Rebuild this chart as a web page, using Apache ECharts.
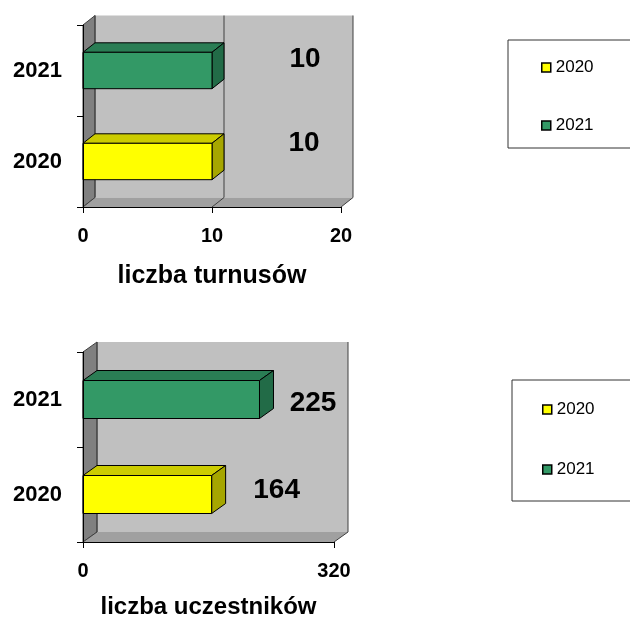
<!DOCTYPE html>
<html>
<head>
<meta charset="utf-8">
<script src="https://cdn.jsdelivr.net/npm/echarts@6/dist/echarts.min.js"></script>
<style>
  html, body { margin: 0; padding: 0; background: #fff; }
  #chart { width: 630px; height: 617px; }
</style>
</head>
<body>
<div id="chart"></div>
<script>
// dane
const years = ['2020', '2021'];
const turnusy = [10, 10];
const uczestnicy = [164, 225];
const turnusyTicks = [0, 10, 20];
const uczestnicyTicks = [0, 320];

const FONT = '"Liberation Sans", Arial, sans-serif';

// kolory ścian i słupków (front, góra, bok)
const wallColors = { back: '#C0C0C0', left: '#808080', floor: '#A0A0A0', line: '#404040' };
const barColors = [
  { front: '#FFFF00', top: '#CCCC00', side: '#A6A600' },
  { front: '#339966', top: '#2A7D54', side: '#226B47' }
];

// ustawienia obu wykresów
const panels = [
  {
    grid: { left: 83, top: 25, width: 258, height: 182 },
    values: turnusy,
    ticks: turnusyTicks,
    name: 'liczba turnusów',
    nameSize: 25,
    nameGap: 57,
    labelMargin: 19,
    depth: [12, 9.5],
    labelOffsets: [[92, -18], [93, -11]],
    legend: { left: 508, top: 40, padding: [19, 90, 14, 33], itemGap: 41 }
  },
  {
    grid: { left: 83, top: 352, width: 251, height: 190 },
    values: uczestnicy,
    ticks: uczestnicyTicks,
    name: 'liczba uczestników',
    nameSize: 24,
    nameGap: 53,
    labelMargin: 19,
    depth: [14, 10],
    labelOffsets: [[65, -4.5], [53.5, 3.5]],
    legend: { left: 512, top: 380, padding: [21, 90, 23, 30], itemGap: 43 }
  }
];

function wallsRenderer(panel) {
  return function (params, api) {
    const cs = params.coordSys;
    const dx = panel.depth[0], dy = panel.depth[1];
    const x0 = cs.x, x1 = cs.x + cs.width;
    const y0 = cs.y, y1 = cs.y + cs.height;
    const children = [
      { type: 'polygon', shape: { points: [[x0 + dx, y0 - dy], [x1 + dx, y0 - dy], [x1 + dx, y1 - dy], [x0 + dx, y1 - dy]] },
        style: { fill: wallColors.back } },
      { type: 'polygon', shape: { points: [[x0, y0], [x0 + dx, y0 - dy], [x0 + dx, y1 - dy], [x0, y1]] },
        style: { fill: wallColors.left, stroke: wallColors.line, lineWidth: 1 } },
      { type: 'polygon', shape: { points: [[x0, y1], [x0 + dx, y1 - dy], [x1 + dx, y1 - dy], [x1, y1]] },
        style: { fill: wallColors.floor } }
    ];
    panel.ticks.forEach(function (t) {
      const x = api.coord([t, 0])[0];
      children.push({ type: 'polyline', shape: { points: [[x, y1], [x + dx, y1 - dy], [x + dx, y0 - dy]] },
        style: { stroke: wallColors.line, lineWidth: 1, fill: null } });
    });
    return { type: 'group', children: children };
  };
}

function barRenderer(panel, yearIdx) {
  return function (params, api) {
    const val = api.value(0);
    const cat = api.value(1);
    const dx = panel.depth[0], dy = panel.depth[1];
    const start = api.coord([0, cat]);
    const end = api.coord([val, cat]);
    const h = api.size([0, 1])[1] * 0.4;
    const xa = start[0], xb = end[0];
    const yt = end[1] - h / 2, yb = end[1] + h / 2;
    const c = barColors[yearIdx];
    const edge = { stroke: '#000', lineWidth: 1 };
    const off = panel.labelOffsets[yearIdx];
    return {
      type: 'group',
      children: [
        { type: 'polygon', shape: { points: [[xa, yt], [xa + dx, yt - dy], [xb + dx, yt - dy], [xb, yt]] },
          style: Object.assign({ fill: c.top }, edge) },
        { type: 'polygon', shape: { points: [[xb, yt], [xb + dx, yt - dy], [xb + dx, yb - dy], [xb, yb]] },
          style: Object.assign({ fill: c.side }, edge) },
        { type: 'rect', shape: { x: xa, y: yt, width: xb - xa, height: h },
          style: Object.assign({ fill: c.front }, edge) },
        { type: 'text', style: { text: String(val), x: xb + off[0], y: end[1] + off[1],
          align: 'center', verticalAlign: 'middle', fill: '#000',
          font: 'bold 28px ' + FONT } }
      ]
    };
  };
}

const option = {
  animation: false,
  grid: [], xAxis: [], yAxis: [], series: [], legend: []
};

panels.forEach(function (p, i) {
  option.grid.push(Object.assign({ containLabel: false, outerBoundsMode: 'none' }, p.grid));
  const last = p.ticks[p.ticks.length - 1];
  option.xAxis.push({
    type: 'value', gridIndex: i, min: 0, max: last, interval: p.ticks[1] - p.ticks[0], z: 10,
    name: p.name, nameLocation: 'middle', nameGap: p.nameGap,
    nameTextStyle: { fontSize: p.nameSize, fontWeight: 'bold', color: '#000', fontFamily: FONT },
    axisLine: { show: true, lineStyle: { color: '#000', width: 1 } },
    axisTick: { show: true, length: 6, lineStyle: { color: '#000' } },
    axisLabel: { fontSize: 20, fontWeight: 'bold', color: '#000', fontFamily: FONT, margin: p.labelMargin },
    splitLine: { show: false }
  });
  option.yAxis.push({
    type: 'category', gridIndex: i, data: years, z: 10,
    axisLine: { show: true, lineStyle: { color: '#000', width: 1 } },
    axisTick: { show: true, length: 6, lineStyle: { color: '#000' } },
    axisLabel: { fontSize: 22, fontWeight: 'bold', color: '#000', fontFamily: FONT, margin: 21 },
    splitLine: { show: false }
  });
  option.series.push({
    type: 'custom', name: 'tło' + i, xAxisIndex: i, yAxisIndex: i, clip: false, z: 1,
    renderItem: wallsRenderer(p), data: [[0, 0]], encode: { x: 0, y: 1 }, silent: true
  });
  years.forEach(function (y, k) {
    option.series.push({
      type: 'custom', name: y, xAxisIndex: i, yAxisIndex: i, clip: false, z: 2,
      itemStyle: { color: barColors[k].front, borderColor: '#000', borderWidth: 1 },
      renderItem: barRenderer(p, k), data: [[p.values[k], k]], encode: { x: 0, y: 1 }
    });
  });
  option.legend.push(Object.assign({
    orient: 'vertical', itemWidth: 9, itemHeight: 9,
    borderColor: '#333', borderWidth: 1, backgroundColor: '#fff',
    selectedMode: false,
    textStyle: { fontSize: 17, color: '#000', fontFamily: FONT },
    data: years.map(function (y, k) {
      return { name: y, icon: 'rect',
        itemStyle: { color: barColors[k].front, borderColor: '#000', borderWidth: 1.5 } };
    })
  }, p.legend));
});

const myChart = echarts.init(document.getElementById('chart'));
myChart.setOption(option);
window.addEventListener('resize', function () { myChart.resize(); });
</script>
</body>
</html>
